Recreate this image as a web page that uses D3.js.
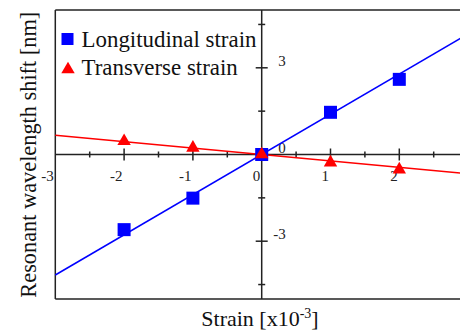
<!DOCTYPE html>
<html><head><meta charset="utf-8">
<script src="https://cdn.jsdelivr.net/npm/d3@7"></script>
<style>body{margin:0;background:#fff;} svg{display:block;}</style>
</head><body>
<script>
const strainX = [-2, -1, 0, 1, 2];
const longitudinal = [-2.6, -1.51, 0, 1.46, 2.6];
const transverse = [0.46, 0.23, 0, -0.28, -0.52];
const longFit = [-4.17, 4.17];   // fitted line values at x = -3 and x = 3
const transFit = [0.67, -0.67];
const fitX = [-3, 3];
const xTickLabels = [-3, -2, -1, 0, 1, 2, 3];
const yTickLabels = [-3, 0, 3];
const seriesNames = ["Longitudinal strain", "Transverse strain"];

const W = 460, H = 332;
const svg = d3.select("body").append("svg").attr("width", W).attr("height", H);
const x = d3.scaleLinear().domain([-3, 3]).range([55.3, 468.1]);
const y = d3.scaleLinear().domain([-5, 5]).range([299, 10]);
const serif = "'Liberation Serif','Times New Roman',serif";
const axisCol = "#222";

function fitWidth(sel, target) {
  const fs = +sel.attr("font-size");
  const w = sel.node().getComputedTextLength();
  if (w > 0) sel.attr("font-size", fs * target / w);
}

// frame
svg.append("line").attr("x1", x(-3)).attr("x2", W + 20).attr("y1", y(5)).attr("y2", y(5)).attr("stroke", axisCol).attr("stroke-width", 1.5);
svg.append("line").attr("x1", x(-3)).attr("x2", W + 20).attr("y1", y(-5)).attr("y2", y(-5)).attr("stroke", axisCol).attr("stroke-width", 1.5);
svg.append("line").attr("x1", x(-3)).attr("x2", x(-3)).attr("y1", y(5)).attr("y2", y(-5)).attr("stroke", axisCol).attr("stroke-width", 1.5);

// zero axes
svg.append("line").attr("x1", x(-3)).attr("x2", W + 20).attr("y1", y(0)).attr("y2", y(0)).attr("stroke", axisCol).attr("stroke-width", 1.5);
svg.append("line").attr("x1", x(0)).attr("x2", x(0)).attr("y1", y(5)).attr("y2", y(-5)).attr("stroke", axisCol).attr("stroke-width", 1.5);

// x ticks
const xt = d3.range(-2.5, 3.01, 0.5);
svg.selectAll(".xt").data(xt).enter().append("line")
  .attr("x1", d => x(d)).attr("x2", d => x(d))
  .attr("y1", d => y(0) - (Number.isInteger(d) ? 6 : 3))
  .attr("y2", d => y(0) + (Number.isInteger(d) ? 6 : 3))
  .attr("stroke", axisCol).attr("stroke-width", 1.5);
// y ticks
const yt = [-4.5, -3, -1.5, 1.5, 3, 4.5];
svg.selectAll(".yt").data(yt).enter().append("line")
  .attr("y1", d => y(d)).attr("y2", d => y(d))
  .attr("x1", d => x(0) - (Math.abs(d) === 3 ? 6 : 3.5))
  .attr("x2", d => x(0) + (Math.abs(d) === 3 ? 6 : 3.5))
  .attr("stroke", axisCol).attr("stroke-width", 1.5);

// x tick labels (the last one falls at the cropped right edge, as in the reference)
svg.selectAll(".xl").data(xTickLabels.filter(d => x(d) - 8 < W)).enter().append("text")
  .attr("x", d => Math.min(x(d) - 1.5, W + 5)).attr("y", y(0) + 26)
  .attr("text-anchor", "end").attr("font-family", serif).attr("font-size", 15).attr("fill", "#222")
  .text(d => d);
// y tick labels
svg.selectAll(".yl").data(yTickLabels).enter().append("text")
  .attr("x", x(0) + 24).attr("y", d => y(d) - 2)
  .attr("text-anchor", "end").attr("font-family", serif).attr("font-size", 15).attr("fill", "#222")
  .text(d => d);

// fit lines
svg.append("line").attr("x1", x(fitX[0])).attr("x2", x(fitX[1]))
  .attr("y1", y(longFit[0])).attr("y2", y(longFit[1])).attr("stroke", "#0000ff").attr("stroke-width", 1.5);
svg.append("line").attr("x1", x(fitX[0])).attr("x2", x(fitX[1]))
  .attr("y1", y(transFit[0])).attr("y2", y(transFit[1])).attr("stroke", "#ff0000").attr("stroke-width", 1.5);

// markers
svg.selectAll(".sq").data(strainX).enter().append("rect")
  .attr("x", (d) => x(d) - 6.5).attr("y", (d, i) => y(longitudinal[i]) - 6.5)
  .attr("width", 13).attr("height", 13).attr("fill", "#0000ff");
const tri = d3.symbol().type(d3.symbolTriangle).size(78);
svg.selectAll(".tr").data(strainX).enter().append("path")
  .attr("d", tri).attr("transform", (d, i) => `translate(${x(d)},${y(transverse[i])})`)
  .attr("fill", "#ff0000");

// legend
svg.append("rect").attr("x", 61.5).attr("y", 33).attr("width", 12).attr("height", 12).attr("fill", "#0000ff");
svg.append("path").attr("d", tri).attr("transform", "translate(68,69.5)").attr("fill", "#ff0000");
const l1 = svg.append("text").attr("x", 81.5).attr("y", 47.3).attr("font-family", serif).attr("font-size", 21).attr("fill", "#111").text(seriesNames[0]);
fitWidth(l1, 175);
svg.append("text").attr("x", 81.5).attr("y", 74.5).attr("font-family", serif).attr("font-size", l1.attr("font-size")).attr("fill", "#111").text(seriesNames[1]);

// axis titles
const xtitle = svg.append("text").attr("x", 260).attr("y", 326).attr("text-anchor", "middle")
  .attr("font-family", serif).attr("font-size", 22).attr("fill", "#111");
xtitle.append("tspan").text("Strain [x10");
xtitle.append("tspan").attr("dy", -8).attr("font-size", 14).text("-3");
xtitle.append("tspan").attr("dy", 8).text("]");

const yt2 = svg.append("text").attr("transform", "translate(36,154.7) rotate(-90)").attr("text-anchor", "middle")
  .attr("font-family", serif).attr("font-size", 22).attr("fill", "#111")
  .text("Resonant wavelength shift [nm]");
fitWidth(yt2, 286);
</script>
</body></html>
